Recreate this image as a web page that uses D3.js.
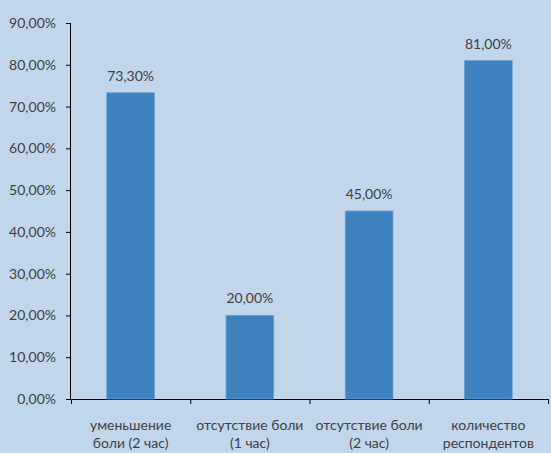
<!DOCTYPE html>
<html><head><meta charset="utf-8">
<script src="https://cdn.jsdelivr.net/npm/d3@7"></script>
<style>body{margin:0;background:#c2d6eb;} svg{display:block;}</style>
</head><body>
<script>
const categories = [["уменьшение","боли (2 час)"],["отсутствие боли","(1 час)"],["отсутствие боли","(2 час)"],["количество","респондентов"]];
const values = [73.3, 20.0, 45.0, 81.0];
const yTicks = [0,10,20,30,40,50,60,70,80,90];

(function(){
const W=551,H=453;
const svg=d3.select("body").append("svg").attr("width",W).attr("height",H);
svg.append("rect").attr("width",W).attr("height",H).attr("fill","#c2d6eb");
const mLeft=71,mRight=548,mTop=23,mBottom=399;
const x=d3.scaleBand().domain(d3.range(values.length)).range([mLeft,mRight]).paddingInner(0.6).paddingOuter(0.3);
const y=d3.scaleLinear().domain([0,90]).range([mBottom,mTop]);
const fmt=v=>v.toFixed(2).replace(".",",")+"%";
const font="Lato, sans-serif";
const fs="14px";
const tc="#404040";

const ya=svg.append("g").attr("transform",`translate(${mLeft},0)`)
 .call(d3.axisLeft(y).tickValues(yTicks).tickSize(5).tickFormat(fmt).tickPadding(10));
ya.select(".domain").attr("stroke","#000").attr("d",`M-0.5,${mTop}V${mBottom}`);
ya.selectAll(".tick line").attr("stroke","#000");
ya.selectAll("text").attr("font-family",font).attr("font-size",fs).attr("fill",tc);

const xb=d3.scaleLinear().domain([0,values.length]).range([mLeft,mRight]);
const xa=svg.append("g").attr("transform",`translate(0,${mBottom})`)
 .call(d3.axisBottom(xb).tickValues(d3.range(values.length+1)).tickSize(5).tickFormat(""));
xa.select(".domain").attr("stroke","#000").attr("d",`M${mLeft},0.5H${mRight}`);
xa.selectAll(".tick line").attr("stroke","#000");

svg.selectAll(".bar").data(values).join("rect")
 .attr("x",(d,i)=>x(i)).attr("width",x.bandwidth())
 .attr("y",d=>y(d)).attr("height",d=>mBottom-y(d))
 .attr("fill","#3e82bf").attr("stroke","#6a9fd0").attr("stroke-width",0.8);

svg.selectAll(".vl").data(values).join("text")
 .attr("x",(d,i)=>x(i)+x.bandwidth()/2).attr("y",d=>y(d)-12)
 .attr("text-anchor","middle").attr("font-family",font).attr("font-size",fs).attr("fill",tc)
 .text(fmt);

categories.forEach((c,i)=>{
  const cx=x(i)+x.bandwidth()/2;
  const t=svg.append("text").attr("x",cx).attr("y",430)
   .attr("text-anchor","middle").attr("font-family",font).attr("font-size",fs).attr("fill",tc);
  c.forEach((line,j)=>t.append("tspan").attr("x",cx).attr("dy",j?18:0).text(line));
});
})();
</script>
</body></html>
